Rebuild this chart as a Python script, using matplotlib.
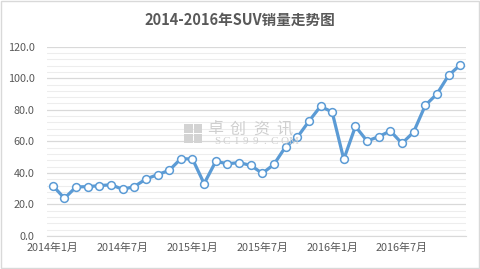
import numpy as np
import matplotlib
matplotlib.use("Agg")
import matplotlib.pyplot as plt
from matplotlib.patches import Rectangle

plt.rcParams['font.family'] = ['Noto Sans CJK SC', 'DejaVu Sans']

""" data """
months = [f"{y}年{m}月" for y in (2014, 2015, 2016) for m in range(1, 13)]
sales = [31.9, 23.9, 31.1, 31.3, 31.9, 32.5, 29.6, 31.3, 36.1, 38.9, 41.6, 49.0,
         48.8, 33.2, 47.3, 45.8, 46.5, 44.8, 39.7, 45.4, 56.6, 62.5, 72.7, 82.2,
         78.6, 48.6, 69.5, 60.2, 63.0, 66.6, 58.7, 65.9, 82.8, 90.0, 101.8, 108.4]
tick_every = 6
title = "2014-2016年SUV销量走势图"

grey = "#595959"
blue = "#5B9BD5"

fig = plt.figure(figsize=(4.8, 2.69), dpi=100)
fig.patches.append(Rectangle((0.002, 0.003), 0.995, 0.993, transform=fig.transFigure,
                             fill=False, edgecolor="#D9D9D9", linewidth=1))

ax = fig.add_axes([47 / 480, 33 / 269, 419 / 480, 189.3 / 269])
x = np.arange(len(sales))

# watermark (pixel positions)
def px(xp, yp):
    return xp / 480, 1 - yp / 269

for bx, by in [(184, 133), (193.5, 133), (184, 143), (193.5, 143)]:
    fig.patches.append(Rectangle(px(bx, by), 8.5 / 480, 9 / 269, transform=fig.transFigure,
                                 facecolor="#D3D3D3", edgecolor="none", zorder=0))
for i, ch in enumerate("卓创资讯"):
    fig.text(*px(215 + i * 23, 129), ch, ha="center", va="center", fontsize=11.5,
             color="#CFCFCF", zorder=0)
for i, ch in enumerate("SCI99.COM"):
    fig.text(*px(217 + i * 9.6, 141.5), ch, ha="center", va="center", fontsize=8,
             color="#D0D0D0", family="Liberation Serif", zorder=0)

ax.plot(x, sales, color=blue, linewidth=2.3, marker="o", markersize=5.6,
        markerfacecolor="white", markeredgecolor=blue, markeredgewidth=1.1, zorder=3)

ax.set_xlim(-0.5, len(sales) - 0.5)
ax.set_ylim(0, 120)
ax.set_yticks(np.arange(0, 121, 20))
ax.set_yticklabels([f"{v:.1f}" for v in np.arange(0, 121, 20)])
ax.set_yticks(np.arange(0, 121, 4), minor=True)
ax.set_xticks(x[::tick_every])
ax.set_xticklabels(months[::tick_every])

ax.grid(axis="y", which="major", color="#D9D9D9", linewidth=0.9)
ax.grid(axis="y", which="minor", color="#EDEDED", linewidth=0.8)
ax.set_axisbelow(True)
for s in ["top", "right", "left"]:
    ax.spines[s].set_visible(False)
ax.spines["bottom"].set_color("#D9D9D9")
ax.tick_params(axis="both", which="both", length=0, labelsize=7.8, labelcolor=grey)
ax.tick_params(axis="x", pad=5)
ax.tick_params(axis="y", pad=9)

fig.text(0.5, 1 - 20 / 269, title, ha="center", va="center", fontsize=10.5,
         fontweight="bold", color=grey)

fig.savefig("out.png", dpi=100)
